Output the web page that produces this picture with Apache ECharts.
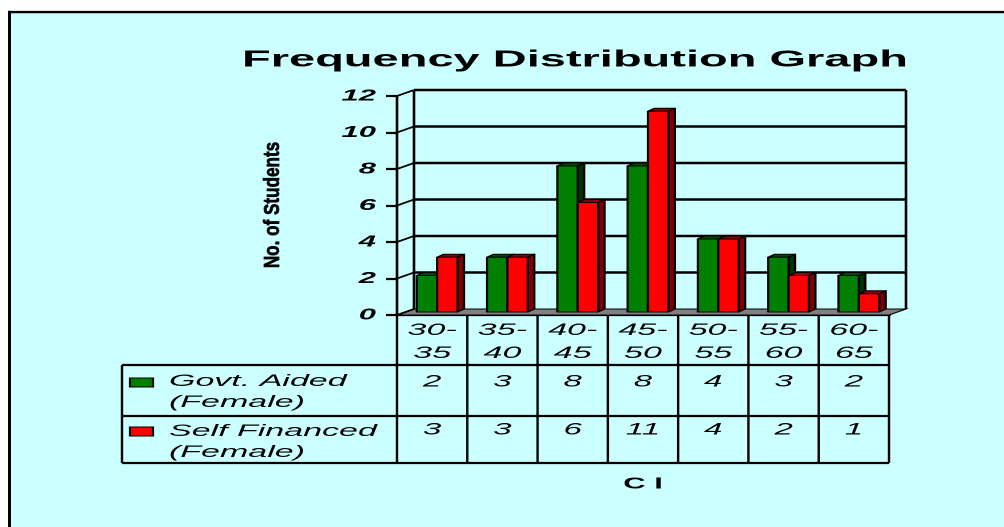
<!DOCTYPE html>
<html>
<head>
<meta charset="utf-8">
<script src="https://cdn.jsdelivr.net/npm/echarts@6/dist/echarts.min.js"></script>
<style>
  html, body { margin: 0; padding: 0; background: #fff; overflow: hidden; }
  /* chart is laid out at half width and stretched horizontally */
  #chart { width: 502px; height: 527px; transform: scaleX(2); transform-origin: 0 0; }
</style>
</head>
<body>
<div id="chart"></div>
<script>
// ---- data ----
const categories = ['30-35', '35-40', '40-45', '45-50', '50-55', '55-60', '60-65'];
const govtAided = [2, 3, 8, 8, 4, 3, 2];
const selfFinanced = [3, 3, 6, 11, 4, 2, 1];
const seriesNames = ['Govt. Aided\n(Female)', 'Self Financed\n(Female)'];
const yTicks = [0, 2, 4, 6, 8, 10, 12];
const titleText = 'Frequency Distribution Graph';
const yAxisTitle = 'No. of Students';
const xAxisTitle = 'C I';

// ---- look ----
const FONT = '"Liberation Sans", Arial, sans-serif';
const BG = '#CCFFFF';
const WALL = [8.5, -6];       // depth offset of the back wall
const BAR_OFF = [2.5, -3];    // bars sit half way into the depth
const BAR_DEPTH = [3.25, -3]; // thickness of each bar
const BAR_RATIO = 0.29;       // bar width as a share of the category band
const FACE = [
  { front: '#008000', top: '#004a00', side: '#003300' },
  { front: '#FF0000', top: '#8a0000', side: '#800000' }
];

const chart = echarts.init(document.getElementById('chart'), null, { devicePixelRatio: 2, renderer: 'canvas' });

// back wall, left wall tick lines and floor
function renderWall(params, api) {
  const cs = params.coordSys;
  const v = api.value(1);
  const y = api.coord([0, v])[1];
  const y0 = api.coord([0, 0])[1];
  const xl = cs.x, xr = cs.x + cs.width;
  const dx = WALL[0], dy = WALL[1];
  const kids = [];
  if (v === 0) {
    kids.push({ type: 'polygon',
      shape: { points: [[xl, y], [xr, y], [xr + dx, y + dy], [xl + dx, y + dy]] },
      style: { fill: '#808080', stroke: '#000', lineWidth: 1 } });
  } else {
    kids.push({ type: 'line', shape: { x1: xl + dx, y1: y + dy, x2: xr + dx, y2: y + dy },
      style: { stroke: '#000', lineWidth: 2.4 } });
  }
  kids.push({ type: 'line', shape: { x1: xl, y1: y, x2: xl + dx, y2: y + dy },
    style: { stroke: '#000', lineWidth: 1.6 } });
  if (v === yTicks[yTicks.length - 1]) {
    kids.push({ type: 'line', shape: { x1: xl + dx, y1: y0 + dy, x2: xl + dx, y2: y + dy },
      style: { stroke: '#000', lineWidth: 1.3 } });
    kids.push({ type: 'line', shape: { x1: xr + dx, y1: y0 + dy, x2: xr + dx, y2: y + dy },
      style: { stroke: '#000', lineWidth: 1.3 } });
  }
  return { type: 'group', children: kids };
}

// one 3D column: front, top and right side faces
function makeBarRenderer(k) {
  return function (params, api) {
    const i = api.value(0), v = api.value(1);
    const band = api.size([1, 0])[0];
    const w = band * BAR_RATIO;
    const c = api.coord([i, v]), b = api.coord([i, 0]);
    const x0 = c[0] - w + k * w + BAR_OFF[0];
    const x1 = x0 + w;
    const yt = c[1] + BAR_OFF[1], yb = b[1] + BAR_OFF[1];
    const ddx = BAR_DEPTH[0], ddy = BAR_DEPTH[1];
    const st = { stroke: '#000', lineWidth: 1.1, lineJoin: 'round' };
    return { type: 'group', children: [
      { type: 'polygon', shape: { points: [[x1, yt], [x1 + ddx, yt + ddy], [x1 + ddx, yb + ddy], [x1, yb]] },
        style: Object.assign({ fill: FACE[k].side }, st) },
      { type: 'polygon', shape: { points: [[x0, yt], [x1, yt], [x1 + ddx, yt + ddy], [x0 + ddx, yt + ddy]] },
        style: Object.assign({ fill: FACE[k].top }, st) },
      { type: 'rect', shape: { x: x0, y: yt, width: w, height: yb - yt },
        style: Object.assign({ fill: FACE[k].front }, st) }
    ] };
  };
}

// data table under the plot: grid lines, values and the legend column
const ROW1 = 50, ROW2 = 101, ROW_END = 148; // row boundaries below the axis
const LEG_LEFT = 137.5;                       // legend column width
function renderTable(params, api) {
  const i = api.value(0);
  const band = api.size([1, 0])[0];
  const p = api.coord([i, 0]);
  const cx = p[0], y0 = p[1];
  const xl = cx - band / 2, xr = cx + band / 2;
  const cs = params.coordSys;
  const line = (x1, y1, x2, y2, lw) => ({ type: 'line', shape: { x1, y1, x2, y2 }, style: { stroke: '#000', lineWidth: lw } });
  const txt = (text, x, y, font, align) => ({ type: 'text',
    style: { text, x, y, font, fill: '#000', align: align || 'center', verticalAlign: 'middle', lineHeight: 21 } });
  const valFont = 'italic 16.5px ' + FONT;
  const kids = [
    line(xl, y0, xl, y0 + ROW_END, 1.2),
    txt(String(api.value(1)), cx, y0 + 67, valFont),
    txt(String(api.value(2)), cx, y0 + 115, valFont)
  ];
  if (i === categories.length - 1) kids.push(line(xr, y0, xr, y0 + ROW_END, 1.2));
  if (i === 0) {
    const gl = cs.x - LEG_LEFT, gr = cs.x + cs.width;
    kids.push(line(gl, y0 + ROW1, gr, y0 + ROW1, 2.2));
    kids.push(line(gl, y0 + ROW2, gr, y0 + ROW2, 2.2));
    kids.push(line(gl, y0 + ROW_END, gr, y0 + ROW_END, 2.2));
    kids.push(line(gl, y0 + ROW1, gl, y0 + ROW_END, 1.2));
    const rows = [[63, 77], [112, 127]];
    rows.forEach((r, k) => {
      kids.push({ type: 'rect', shape: { x: cs.x - 133.5, y: y0 + r[0], width: 11.5, height: 9 },
        style: { fill: FACE[k].front, stroke: '#000', lineWidth: 1.1 } });
      kids.push(txt(seriesNames[k], cs.x - 114, y0 + r[1], 'italic 17px ' + FONT, 'left'));
    });
  }
  return { type: 'group', children: kids };
}

const option = {
  backgroundColor: BG,
  animation: false,
  title: {
    text: titleText, left: 116, top: 43,
    textStyle: { fontFamily: FONT, fontSize: 23.5, fontWeight: 'bold', color: '#000' }
  },
  grid: { left: 198.5, right: 57.5, top: 96, bottom: 212, outerBoundsMode: 'none' },
  xAxis: {
    type: 'category', data: categories,
    axisLine: { lineStyle: { color: '#000', width: 2.2 } },
    axisTick: { show: false },
    axisLabel: {
      formatter: (v) => v.replace('-', '-\n'),
      fontFamily: FONT, fontStyle: 'italic', fontSize: 17, lineHeight: 23, color: '#000', margin: 4
    },
    name: xAxisTitle, nameLocation: 'middle', nameGap: 161,
    nameTextStyle: { fontFamily: FONT, fontWeight: 'bold', fontSize: 15.5, color: '#000' }
  },
  yAxis: {
    type: 'value', min: 0, max: 12, interval: 2,
    axisLine: { show: true, lineStyle: { color: '#000', width: 1.3 } },
    axisTick: { show: true, length: 5.5, lineStyle: { color: '#000', width: 2.2 } },
    splitLine: { show: false },
    axisLabel: { fontFamily: FONT, fontStyle: 'italic', fontWeight: 'bold', fontSize: 15.5, color: '#000', margin: 10.5 }
  },
  graphic: [
    { type: 'rect', z: 100, silent: true, shape: { x: 0, y: 0, width: 502, height: 10.8 }, style: { fill: '#fff' } },
    { type: 'rect', z: 100, silent: true, shape: { x: 0, y: 0, width: 4, height: 527 }, style: { fill: '#fff' } },
    { type: 'line', z: 101, silent: true, shape: { x1: 4, y1: 12.1, x2: 502, y2: 12.1 }, style: { stroke: '#000', lineWidth: 2.4 } },
    { type: 'line', z: 101, silent: true, shape: { x1: 4.75, y1: 10.9, x2: 4.75, y2: 527 }, style: { stroke: '#000', lineWidth: 1.5 } },
    { type: 'text', z: 101, x: 136.5, y: 205, rotation: Math.PI / 2, scaleX: 0.9, scaleY: 0.6,
      style: { text: yAxisTitle, font: 'bold 19px ' + FONT, fill: '#000', align: 'center', verticalAlign: 'middle',
        stroke: '#000', lineWidth: 0.6 } }
  ],
  series: [
    { type: 'custom', name: 'wall', z: 1, clip: false, silent: true,
      renderItem: renderWall, data: yTicks.map(v => [0, v]), encode: { x: 0, y: 1 } },
    { type: 'custom', name: seriesNames[0], z: 3, clip: false,
      renderItem: makeBarRenderer(0), data: govtAided.map((v, i) => [i, v]), encode: { x: 0, y: 1 } },
    { type: 'custom', name: seriesNames[1], z: 4, clip: false,
      renderItem: makeBarRenderer(1), data: selfFinanced.map((v, i) => [i, v]), encode: { x: 0, y: 1 } },
    { type: 'custom', name: 'table', z: 5, clip: false, silent: true,
      renderItem: renderTable, data: categories.map((c, i) => [i, govtAided[i], selfFinanced[i]]), encode: { x: 0, y: 1 } }
  ]
};
chart.setOption(option);
</script>
</body>
</html>
